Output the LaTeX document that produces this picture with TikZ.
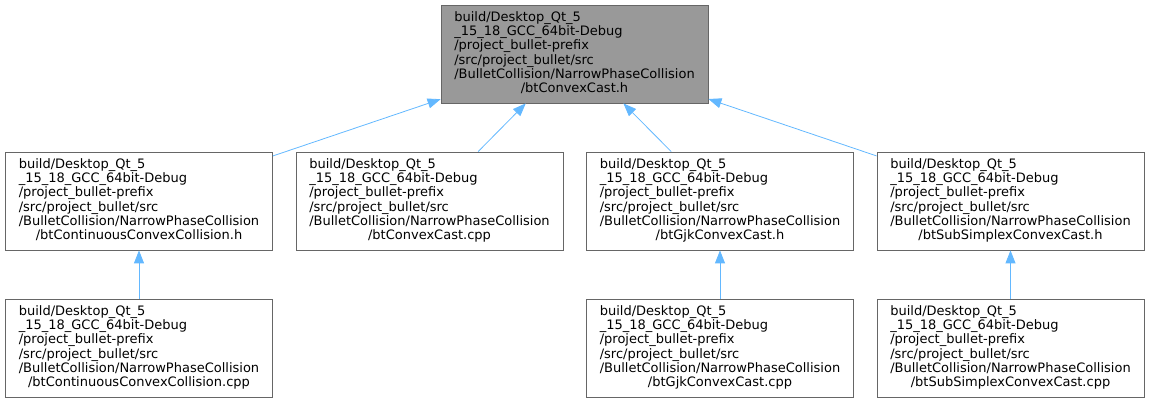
\documentclass[tikz,border=0pt]{standalone}
\usepackage{fontspec}
\setmainfont{DejaVu Sans}
\usetikzlibrary{arrows.meta}
\definecolor{edgeblue}{HTML}{63B8FF}
\definecolor{boxgrey}{HTML}{666666}
\definecolor{rootfill}{HTML}{999999}
% file label: common path lines, last line centred
\newcommand{\btfile}[1]{\fontsize{13}{14.3}\selectfont%
  \begin{tabular}{@{}l@{}}build/Desktop\_Qt\_5\\\_15\_18\_GCC\_64bit-Debug\\/project\_bullet-prefix\\/src/project\_bullet/src\\/BulletCollision/NarrowPhaseCollision\\\multicolumn{1}{@{}c@{}}{/#1}\end{tabular}}
\begin{document}
\begin{tikzpicture}[x=1pt,y=-1pt]
    \tikzstyle{file}=[rectangle, draw=boxgrey, fill=white, inner sep=0pt, minimum width=267pt, minimum height=98pt, line width=0.8pt]
    \tikzstyle{root file}=[file, fill=rootfill]
    \tikzstyle{incl}=[{Triangle[length=13pt,width=10pt]}-, draw=edgeblue, line width=0.8pt]

    \useasboundingbox (0,0) rectangle (1149,403);

    % Draw the included header
    \node[root file] (Top) at (574.5,54) {\btfile{btConvexCast.h}};

    % Draw the files that include it
    \foreach \name / \x / \f in {1/139/btContinuousConvexCollision.h, 2/429.5/btConvexCast.cpp, 3/720/btGjkConvexCast.h, 4/1010.5/btSubSimplexConvexCast.h}
      \node[file] (Inc-\name) at (\x,201) {\btfile{\f}};

    % Draw the sources of the headers
    \foreach \name / \x / \f in {1/139/btContinuousConvexCollision.cpp, 3/720/btGjkConvexCast.cpp, 4/1010.5/btSubSimplexConvexCast.cpp}
      \node[file] (Src-\name) at (\x,348) {\btfile{\f}};

    \foreach \dest in {1,...,4}
        \draw[incl] (Top) -- (Inc-\dest);

    \foreach \dest in {1,3,4}
        \draw[incl] (Inc-\dest) -- (Src-\dest);
\end{tikzpicture}
\end{document}
